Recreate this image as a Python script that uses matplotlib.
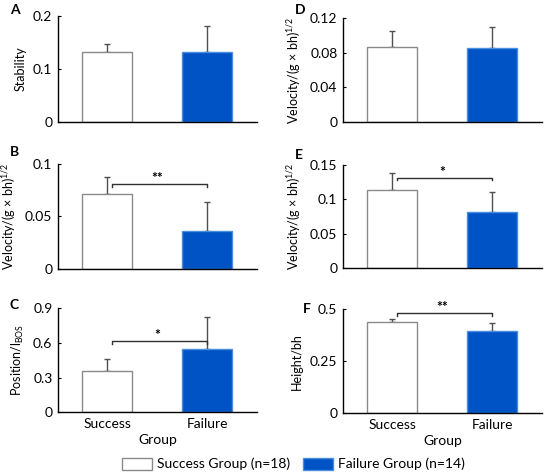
import matplotlib
matplotlib.use('Agg')
import matplotlib.pyplot as plt
from matplotlib.patches import Patch

plt.rcParams['font.family'] = ['Lato', 'DejaVu Sans']
plt.rcParams['mathtext.fontset'] = 'custom'
plt.rcParams['mathtext.rm'] = 'Lato'
plt.rcParams['mathtext.it'] = 'Lato'

groups = ['Success', 'Failure']
legend_labels = ['Success Group (n=18)', 'Failure Group (n=14)']
panel_letters = ['A', 'B', 'C', 'D', 'E', 'F']
ylabels = ['Stability',
           r'Velocity/(g $\times$ bh)$^{1/2}$',
           r'Position/l$_{\mathrm{BOS}}$',
           r'Velocity/(g $\times$ bh)$^{1/2}$',
           r'Velocity/(g $\times$ bh)$^{1/2}$',
           'Height/bh']
ymax = [0.2, 0.1, 0.9, 0.12, 0.15, 0.5]
yticks = [[0, 0.1, 0.2], [0, 0.05, 0.1], [0, 0.3, 0.6, 0.9],
          [0, 0.04, 0.08, 0.12], [0, 0.05, 0.1, 0.15], [0, 0.25, 0.5]]
yticklabels = [['0', '0.1', '0.2'], ['0', '0.05', '0.1'], ['0', '0.3', '0.6', '0.9'],
               ['0', '0.04', '0.08', '0.12'], ['0', '0.05', '0.1', '0.15'], ['0', '0.25', '0.5']]
success_mean = [0.133, 0.071, 0.355, 0.086, 0.113, 0.437]
success_err = [0.014, 0.017, 0.105, 0.019, 0.026, 0.017]
failure_mean = [0.133, 0.036, 0.552, 0.085, 0.081, 0.398]
failure_err = [0.049, 0.028, 0.275, 0.025, 0.030, 0.034]
sig_height = [None, 0.0805, 0.615, None, 0.1315, 0.481]
sig_stars = [None, '**', '*', None, '*', '**']

# axes boxes in pixels: left, top, right, bottom
W, H = 560, 473
boxes = [(58, 16, 257, 122), (58, 164, 257, 268.7), (58, 308.3, 257, 412.3),
         (343, 18, 542, 122), (343, 165, 542, 268), (343, 309.3, 542, 413.3)]
letter_pos = [(10, 10), (10, 152), (10, 305), (295, 10), (295, 155), (303, 309)]

white_edge = '#8a8a8a'
blue = '#0053c4'
blue_edge = '#4a8ee0'

fig = plt.figure(figsize=(W / 100, H / 100), dpi=100)

for i in range(6):
    l, t, r, b = boxes[i]
    ax = fig.add_axes([l / W, (H - b) / H, (r - l) / W, (b - t) / H])
    ax.bar([0], [success_mean[i]], 0.5, color='white', edgecolor=white_edge, linewidth=1, zorder=2)
    ax.bar([1], [failure_mean[i]], 0.5, color=blue, edgecolor=blue_edge, linewidth=1, zorder=2)
    ax.errorbar([0, 1], [success_mean[i], failure_mean[i]],
                yerr=[[0, 0], [success_err[i], failure_err[i]]],
                fmt='none', ecolor='#505050', elinewidth=1, capsize=2, capthick=1, zorder=1)
    ax.set_xlim(-0.49, 1.5)
    ax.set_ylim(0, ymax[i])
    ax.set_yticks(yticks[i])
    ax.set_yticklabels(yticklabels[i])
    ax.tick_params(axis='y', direction='in', length=2, labelsize=10, pad=4)
    for s in ['top', 'right']:
        ax.spines[s].set_visible(False)
    ax.spines['left'].set_linewidth(1)
    ax.spines['bottom'].set_linewidth(1)
    ax.set_ylabel(ylabels[i], fontsize=9, labelpad=5)
    if i in (2, 5):
        ax.set_xticks([0, 1])
        ax.set_xticklabels(groups)
        ax.tick_params(axis='x', length=0, labelsize=10, pad=4)
        ax.set_xlabel('Group', fontsize=10, labelpad=3)
    else:
        ax.set_xticks([])
    if sig_height[i] is not None:
        h = sig_height[i]
        dh = ymax[i] * 0.025
        ax.plot([0.05, 0.05, 1.0, 1.0], [h - dh, h, h, h - dh], color='#303030', lw=1)
        ax.text(0.5, h, sig_stars[i], ha='center', va='bottom', fontsize=10, fontweight='bold')
    x, y = letter_pos[i]
    fig.text(x / W, 1 - y / H, panel_letters[i], fontsize=10, fontweight='bold', ha='left', va='center')

handles = [Patch(facecolor='white', edgecolor=white_edge),
           Patch(facecolor=blue, edgecolor=blue_edge)]
fig.legend(handles, legend_labels, loc='center', bbox_to_anchor=(293.5 / W, 1 - 464 / H), ncol=2,
           frameon=False, fontsize=10, handlelength=2.15, handleheight=0.95, columnspacing=0.95,
           handletextpad=0.35, borderpad=0, borderaxespad=0)

fig.savefig('out.png', dpi=100)
